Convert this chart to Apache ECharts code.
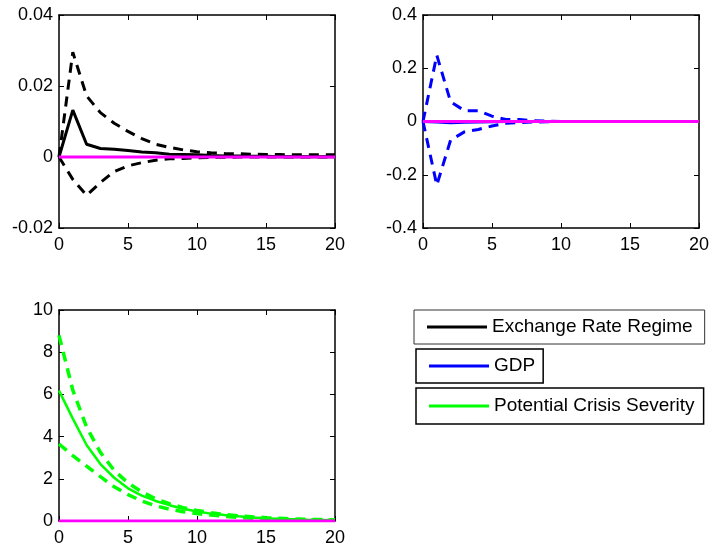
<!DOCTYPE html>
<html>
<head>
<meta charset="utf-8">
<title>Impulse responses</title>
<script src="https://cdn.jsdelivr.net/npm/echarts@6/dist/echarts.min.js"></script>
<style>
  html, body { margin: 0; padding: 0; background: #fff; }
  #main { width: 712px; height: 549px; }
</style>
</head>
<body>
<div id="main"></div>
<script>
// horizon
var steps = [0,1,2,3,4,5,6,7,8,9,10,11,12,13,14,15,16,17,18,19,20];

// exchange rate regime response + bands
var errMid = [0,0.0132,0.0036,0.0024,0.0022,0.0018,0.0014,0.0012,0.0008,0.0007,0.0006,0.0004,0.0003,0.0003,0.0002,0.0002,0.0001,0.0001,0.0001,0.0001,0.0001];
var errUp  = [0,0.0295,0.0172,0.0125,0.0095,0.0072,0.0052,0.0036,0.0027,0.002,0.0015,0.0012,0.001,0.0009,0.0008,0.0007,0.0007,0.0006,0.0006,0.0006,0.0006];
var errLow = [0,-0.0063,-0.0108,-0.0072,-0.0041,-0.0025,-0.0016,-0.0009,-0.0005,-0.0004,-0.0002,-0.0001,-0.0001,0,0,0,0,0,0,0,0];

// GDP response + bands
var gdpMid = [0,-0.002,-0.005,-0.003,-0.002,-0.001,0,0,0,0,0,0,0,0,0,0,0,0,0,0,0];
var gdpUp  = [0,0.249,0.074,0.041,0.04,0.02,0.0075,0.0075,0.003,0.001,0,0,0,0,0,0,0,0,0,0,0];
var gdpLow = [0,-0.239,-0.07,-0.039,-0.03,-0.017,-0.007,-0.004,-0.002,-0.001,0,0,0,0,0,0,0,0,0,0,0];

// potential crisis severity response + bands
var pcsMid = [6.18,4.85,3.6,2.7,2.05,1.55,1.2,0.95,0.75,0.58,0.45,0.35,0.28,0.22,0.17,0.13,0.1,0.08,0.06,0.05,0.04];
var pcsUp  = [8.8,6.2,4.45,3.25,2.4,1.8,1.38,1.05,0.82,0.63,0.5,0.39,0.31,0.25,0.2,0.16,0.13,0.1,0.08,0.07,0.06];
var pcsLow = [3.65,3.1,2.6,2.1,1.62,1.25,0.95,0.72,0.56,0.44,0.35,0.28,0.22,0.17,0.13,0.1,0.08,0.06,0.05,0.04,0.03];

// zero reference line
var zeroLine = [0,0,0,0,0,0,0,0,0,0,0,0,0,0,0,0,0,0,0,0,0];

// y ranges [min, max, step] per panel
var yRange1 = [-0.02, 0.04, 0.02];
var yRange2 = [-0.4, 0.4, 0.2];
var yRange3 = [0, 10, 2];
var xRange = [0, 20, 5];

var legendNames = ['Exchange Rate Regime', 'GDP', 'Potential Crisis Severity'];

var FONT = 'Liberation Sans, Arial, sans-serif';

function pairs(vals) {
  return steps.map(function (s, i) { return [s, vals[i]]; });
}

var axisLine = { show: true, onZero: false, lineStyle: { color: '#000', width: 1.5 } };
var axisTick = { show: true, inside: true, length: 5, lineStyle: { color: '#000', width: 1 } };

function xAxes(g) {
  var base = {
    gridIndex: g, type: 'value', min: xRange[0], max: xRange[1], interval: xRange[2],
    axisLine: axisLine, axisTick: axisTick, splitLine: { show: false }
  };
  return [
    Object.assign({}, base, { position: 'bottom',
      axisLabel: { color: '#000', fontSize: 18, fontFamily: FONT, margin: 8 } }),
    Object.assign({}, base, { position: 'top', axisLabel: { show: false } })
  ];
}

function yAxes(g, r) {
  var base = {
    gridIndex: g, type: 'value', min: r[0], max: r[1], interval: r[2],
    axisLine: axisLine, axisTick: axisTick, splitLine: { show: false }
  };
  return [
    Object.assign({}, base, { position: 'left',
      axisLabel: { color: '#000', fontSize: 18, fontFamily: FONT, margin: 6 } }),
    Object.assign({}, base, { position: 'right', axisLabel: { show: false } })
  ];
}

function line(name, g, vals, color, width, dashed, z) {
  return {
    name: name, type: 'line', xAxisIndex: g * 2, yAxisIndex: g * 2,
    data: pairs(vals), showSymbol: false, symbol: 'none', silent: true,
    animation: false, z: z || 2,
    itemStyle: { color: color },
    lineStyle: { color: color, width: width, type: dashed ? [10, 7] : 'solid' }
  };
}

function legendBox(name, left, top, pad, bw, bc) {
  return {
    data: [name], left: left, top: top, orient: 'horizontal',
    padding: pad, itemWidth: 60, itemHeight: 3, icon: 'rect',
    selectedMode: false, borderColor: bc, borderWidth: bw,
    backgroundColor: '#fff',
    textStyle: { color: '#000', fontSize: 19, fontFamily: FONT, lineHeight: 20 }
  };
}

var chart = echarts.init(document.getElementById('main'), null, { renderer: 'canvas' });

chart.setOption({
  backgroundColor: '#fff',
  animation: false,
  grid: [
    { left: 59, top: 15, width: 276, height: 213 },
    { left: 423, top: 15, width: 278, height: 213 },
    { left: 59, top: 310, width: 276, height: 211 }
  ],
  xAxis: xAxes(0).concat(xAxes(1), xAxes(2)),
  yAxis: yAxes(0, yRange1).concat(yAxes(1, yRange2), yAxes(2, yRange3)),
  legend: [
    legendBox(legendNames[0], 414, 310, [7, 12, 7, 13], 1, '#333'),
    legendBox(legendNames[1], 416, 349, [7, 8, 7, 13], 1.5, '#000'),
    legendBox(legendNames[2], 416, 388, [8, 9, 8, 13], 1.5, '#000')
  ],
  series: [
    line('err upper', 0, errUp, '#000', 3, true),
    line('err lower', 0, errLow, '#000', 3, true),
    line(legendNames[0], 0, errMid, '#000', 3, false),
    line('zero 1', 0, zeroLine, '#ff00ff', 3, false, 5),

    line('gdp upper', 1, gdpUp, '#0000ff', 3, true),
    line('gdp lower', 1, gdpLow, '#0000ff', 3, true),
    line(legendNames[1], 1, gdpMid, '#0000ff', 3, false),
    line('zero 2', 1, zeroLine, '#ff00ff', 3, false, 5),

    line('pcs upper', 2, pcsUp, '#00ff00', 3.5, true),
    line('pcs lower', 2, pcsLow, '#00ff00', 3.5, true),
    line(legendNames[2], 2, pcsMid, '#00ff00', 2.5, false),
    line('zero 3', 2, zeroLine, '#ff00ff', 3, false, 5)
  ]
});
</script>
</body>
</html>
